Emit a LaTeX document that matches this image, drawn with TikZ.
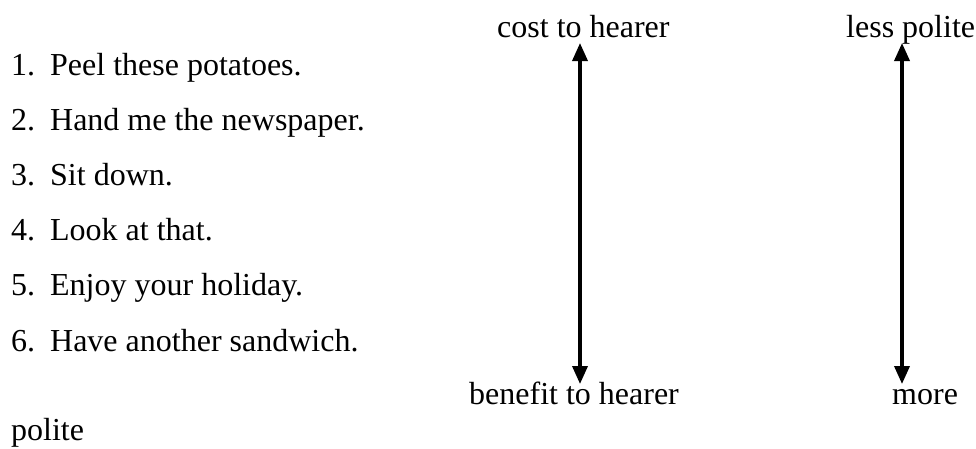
\documentclass[tikz,border=0pt]{standalone}
\usepackage{fontspec}
\setmainfont{Liberation Serif}
\usetikzlibrary{arrows.meta}
\begin{document}
\begin{tikzpicture}[x=1pt,y=-1pt,
  txt/.style={inner sep=0pt,anchor=base west,font=\fontsize{32}{38}\selectfont},
  scale arrow/.style={line width=3.5pt,{Triangle[length=18pt,width=15pt]}-{Triangle[length=18pt,width=15pt]}}]
\useasboundingbox (0,0) rectangle (976,448);
% list
\node[txt] (i1) at (11,75)    {\makebox[39pt][l]{1.}Peel these potatoes.};
\node[txt] (i2) at (11,130.2) {\makebox[39pt][l]{2.}Hand me the newspaper.};
\node[txt] (i3) at (11,185.4) {\makebox[39pt][l]{3.}Sit down.};
\node[txt] (i4) at (11,240.6) {\makebox[39pt][l]{4.}Look at that.};
\node[txt] (i5) at (11,295.8) {\makebox[39pt][l]{5.}Enjoy your holiday.};
\node[txt] (i6) at (11,351)   {\makebox[39pt][l]{6.}Have another sandwich.};
\node[txt] (pol) at (11,440)  {polite};
% labels
\node[txt] (cost) at (497,37)  {cost to hearer};
\node[txt] (less) at (846,37)  {less polite};
\node[txt] (ben)  at (469,404) {benefit to hearer};
\node[txt] (more) at (892,404) {more};
% arrows
\coordinate (a1t) at (580,43);
\coordinate (a1b) at (580,384);
\coordinate (a2t) at (902,43);
\coordinate (a2b) at (902,384);
\draw[scale arrow] (a1t) -- (a1b);
\draw[scale arrow] (a2t) -- (a2b);
\end{tikzpicture}
\end{document}
